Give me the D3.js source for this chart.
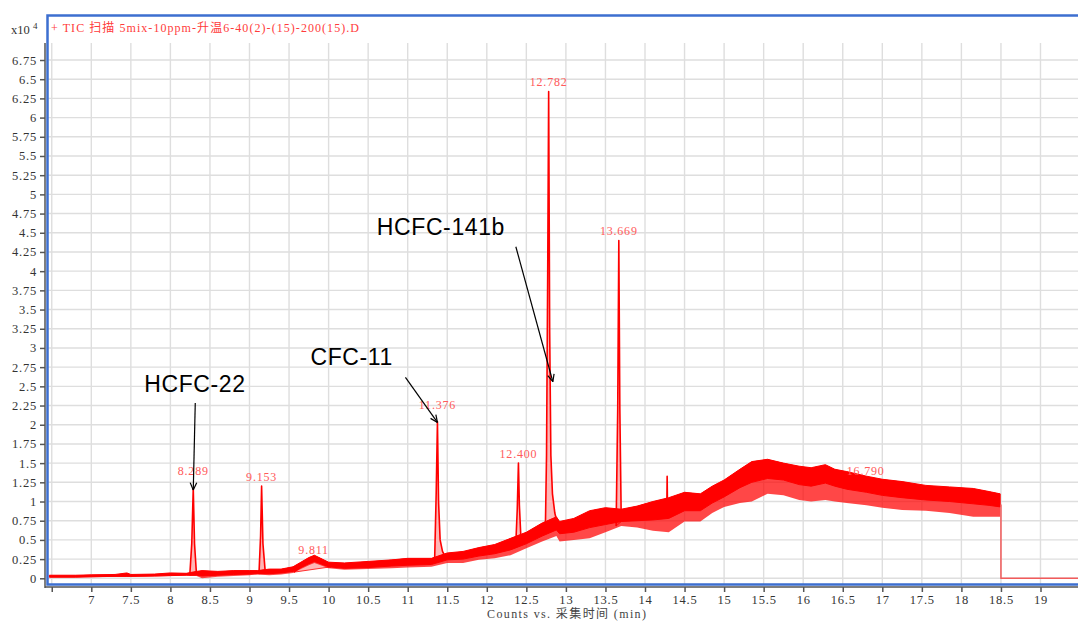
<!DOCTYPE html>
<html><head><meta charset="utf-8">
<script src="https://cdn.jsdelivr.net/npm/d3@7"></script>
<style>body{margin:0;background:#fff}svg{display:block}</style>
</head><body>
<svg id="chart" width="1078" height="621"></svg>
<script>
// Total ion chromatogram: counts (x10^4) against acquisition time (min)
const titleText = "+ TIC 扫描 5mix-10ppm-升温6-40(2)-(15)-200(15).D";
const xAxisTitle = "Counts vs. 采集时间 (min)";
const xTicks = d3.range(6.5, 19.01, 0.5);
const yTicks = d3.range(0, 6.76, 0.25);

// noisy baseline envelope: time, lower spike edge, lower edge of the dense trace, upper edge
const bandTime = [6.47, 6.8, 7.0, 7.3, 7.45, 7.5, 7.8, 8.0, 8.2, 8.33, 8.4, 8.6, 8.8, 9.0, 9.1, 9.25, 9.4, 9.55, 9.65, 9.75, 9.82, 9.9, 10.0, 10.2, 10.5, 10.8, 11.0, 11.3, 11.5, 11.7, 11.9, 12.1, 12.3, 12.5, 12.7, 12.88, 12.92, 13.1, 13.3, 13.5, 13.7, 13.9, 14.1, 14.3, 14.5, 14.7, 14.85, 15.0, 15.2, 15.35, 15.55, 15.75, 15.95, 16.1, 16.28, 16.4, 16.55, 16.8, 17.0, 17.25, 17.55, 17.85, 18.15, 18.35, 18.49];
const bandLow  = [0.01, 0.01, 0.015, 0.02, 0.02, 0.02, 0.025, 0.03, 0.035, 0.03, 0.0, 0.02, 0.03, 0.04, 0.05, 0.04, 0.05, 0.07, 0.12, 0.17, 0.2, 0.17, 0.13, 0.11, 0.12, 0.13, 0.14, 0.15, 0.2, 0.2, 0.24, 0.26, 0.3, 0.39, 0.48, 0.55, 0.48, 0.5, 0.52, 0.6, 0.68, 0.66, 0.62, 0.6, 0.74, 0.74, 0.85, 0.93, 0.98, 1.0, 1.1, 1.08, 1.02, 1.0, 1.02, 1.0, 0.98, 0.95, 0.92, 0.89, 0.88, 0.85, 0.8, 0.8, 0.8];
const bandDenseLow = [0.015, 0.015, 0.02, 0.025, 0.025, 0.025, 0.03, 0.035, 0.04, 0.04, 0.03, 0.04, 0.05, 0.055, 0.06, 0.06, 0.07, 0.09, 0.14, 0.19, 0.22, 0.19, 0.15, 0.13, 0.14, 0.16, 0.17, 0.18, 0.24, 0.25, 0.29, 0.32, 0.37, 0.45, 0.55, 0.63, 0.58, 0.6, 0.66, 0.7, 0.74, 0.75, 0.76, 0.78, 0.88, 0.88, 0.98, 1.06, 1.18, 1.25, 1.3, 1.28, 1.22, 1.2, 1.24, 1.2, 1.16, 1.12, 1.08, 1.05, 1.02, 1.0, 0.97, 0.95, 0.93];
const bandHigh = [0.04, 0.04, 0.045, 0.05, 0.07, 0.05, 0.055, 0.07, 0.065, 0.09, 0.1, 0.09, 0.1, 0.1, 0.1, 0.12, 0.12, 0.15, 0.21, 0.27, 0.3, 0.26, 0.21, 0.2, 0.22, 0.24, 0.26, 0.26, 0.33, 0.35, 0.4, 0.44, 0.52, 0.6, 0.72, 0.8, 0.74, 0.78, 0.88, 0.92, 0.9, 0.94, 1.0, 1.05, 1.12, 1.1, 1.2, 1.28, 1.42, 1.52, 1.55, 1.5, 1.46, 1.44, 1.48, 1.42, 1.39, 1.33, 1.29, 1.26, 1.21, 1.19, 1.17, 1.13, 1.1];

// acquisition stops at 18.5 min, signal reads zero afterwards
const zeroTail = [[18.49, 0.95], [18.5, 0.95], [18.5, 0], [19.7, 0]];

// integrated peaks [time, counts x10^4]; first/last points are the integration baseline ends
const peak8289  = [[8.245, 0.04], [8.27, 0.45], [8.289, 1.17], [8.305, 0.45], [8.33, 0.05]];
const peak9153  = [[9.12, 0.06], [9.14, 0.55], [9.153, 1.20], [9.17, 0.45], [9.20, 0.07]];
const peak9811  = [[9.56, 0.08], [9.65, 0.15], [9.75, 0.22], [9.811, 0.25], [9.9, 0.2], [10.03, 0.15]];
const peak11376 = [[11.34, 0.21], [11.36, 1.1], [11.376, 2.04], [11.39, 1.0], [11.41, 0.5], [11.44, 0.35], [11.49, 0.25]];
const peak12400 = [[12.365, 0.40], [12.385, 0.9], [12.400, 1.50], [12.412, 0.95], [12.43, 0.55], [12.455, 0.46]];
const peak12782 = [[12.74, 0.62], [12.755, 1.6], [12.77, 4.0], [12.782, 6.34], [12.795, 3.2], [12.81, 1.6], [12.83, 1.1], [12.86, 0.85], [12.89, 0.72]];
const peak13669 = [[13.635, 0.68], [13.655, 2.2], [13.669, 4.40], [13.682, 2.2], [13.70, 0.74]];
const spike14280 = [[14.275, 0.85], [14.28, 1.33], [14.285, 0.88]];

const integratedPeaks = [peak8289, peak9153, peak9811, peak11376, peak12400, peak12782, peak13669];

// retention-time labels
const peakRT = [8.289, 9.153, 9.811, 11.376, 12.400, 12.782, 13.669, 16.790];
const peakLabels = ["8.289", "9.153", "9.811", "11.376", "12.400", "12.782", "13.669", "16.790"];

// compound annotations: name, arrow tip (time, counts x10^4)
const compoundNames = ["HCFC-22", "CFC-11", "HCFC-141b"];
const compoundTipTime = [8.289, 11.376, 12.835];
const compoundTipValue = [1.15, 2.03, 2.56];

const svg = d3.select("#chart");
const plot = {left: 48, right: 1078, top: 43, bottom: 585};

const x = d3.scaleLinear().domain([7, 19]).range([91.3, 1040.5]);
const y = d3.scaleLinear().domain([0, 6.75]).range([578.3, 60]);

svg.append("defs").append("clipPath").attr("id", "plotClip")
  .append("rect").attr("x", plot.left).attr("y", plot.top)
  .attr("width", plot.right - plot.left).attr("height", plot.bottom - plot.top);

// grid
const grid = svg.append("g").attr("stroke", "#dedede").attr("stroke-width", 1.4);
grid.selectAll("line.v").data(xTicks).join("line").attr("class", "v")
  .attr("x1", d => x(d)).attr("x2", d => x(d)).attr("y1", plot.top).attr("y2", plot.bottom);
grid.selectAll("line.h").data(yTicks).join("line").attr("class", "h")
  .attr("x1", plot.left).attr("x2", plot.right).attr("y1", d => y(d)).attr("y2", d => y(d));

const g = svg.append("g").attr("clip-path", "url(#plotClip)");
const line = d3.line().x(d => x(d[0])).y(d => y(d[1]));

// integration fills and baselines
g.selectAll("path.fill").data(integratedPeaks).join("path").attr("class", "fill")
  .attr("d", d => line(d) + "Z").attr("fill", "#ffb6b6").attr("stroke", "none");
g.selectAll("line.base").data(integratedPeaks).join("line").attr("class", "base")
  .attr("x1", d => x(d[0][0])).attr("y1", d => y(d[0][1]))
  .attr("x2", d => x(d[d.length - 1][0])).attr("y2", d => y(d[d.length - 1][1]))
  .attr("stroke", "#ff3030").attr("stroke-width", 1);

// noisy baseline: sparse spikes below, dense trace on top
const bandData = bandTime.map((t, i) => [t, bandLow[i], bandDenseLow[i], bandHigh[i]]);
g.append("path").datum(bandData)
  .attr("d", d3.area().x(d => x(d[0])).y0(d => y(d[1])).y1(d => y(d[3])))
  .attr("fill", "#ff0000").attr("fill-opacity", 0.72).attr("stroke", "none");
g.append("path").datum(bandData)
  .attr("d", d3.area().x(d => x(d[0])).y0(d => y(d[2])).y1(d => y(d[3])))
  .attr("fill", "#ff0000").attr("stroke", "#ff0000").attr("stroke-width", 1).attr("stroke-linejoin", "round");

// peak traces
g.selectAll("path.peak").data(integratedPeaks.concat([spike14280])).join("path").attr("class", "peak")
  .attr("d", line).attr("fill", "none").attr("stroke", "#ff0000").attr("stroke-width", 1.6)
  .attr("stroke-linejoin", "round");

// end of run
g.append("path").datum(zeroTail).attr("d", line)
  .attr("fill", "none").attr("stroke", "#f25b5b").attr("stroke-width", 1.5);

// retention-time labels
const labelLift = {"8.289": 13, "11.376": 13, "9.811": 2, "16.790": 1};
const profileByRT = new Map(integratedPeaks.map(p => [d3.greatest(p, d => d[1])[0], p]));
function topValueAt(t) {
  const band = d3.scaleLinear().domain(bandTime).range(bandHigh)(t);
  const p = profileByRT.get(t);
  return p ? Math.max(d3.max(p, d => d[1]), t === 9.811 ? band : 0) : band;
}
svg.append("g").selectAll("text").data(peakRT).join("text")
  .attr("x", d => x(d))
  .attr("y", (d, i) => y(topValueAt(d)) - (labelLift[peakLabels[i]] ?? 5))
  .attr("text-anchor", "middle")
  .attr("font-family", "'Liberation Serif', serif").attr("font-size", 12)
  .attr("letter-spacing", 0.8).attr("fill", "#ff5a5a")
  .text((d, i) => peakLabels[i]);

// compound annotations
const annoOffsets = [
  {tail: [2, -87], text: [-49, -98]},
  {tail: [-32, -45], text: [-127, -57]},
  {tail: [-37, -135], text: [-176, -147]}
];
const anno = svg.append("g");
compoundNames.forEach((name, i) => {
  const tx = x(compoundTipTime[i]), ty = y(compoundTipValue[i]);
  const o = annoOffsets[i];
  const sx = tx + o.tail[0], sy = ty + o.tail[1];
  anno.append("line").attr("x1", sx).attr("y1", sy).attr("x2", tx).attr("y2", ty)
    .attr("stroke", "#000").attr("stroke-width", 1.2);
  const ang = Math.atan2(ty - sy, tx - sx);
  [-0.42, 0.42].forEach(a => {
    anno.append("line").attr("x1", tx).attr("y1", ty)
      .attr("x2", tx - 8 * Math.cos(ang + a)).attr("y2", ty - 8 * Math.sin(ang + a))
      .attr("stroke", "#000").attr("stroke-width", 1.2);
  });
  anno.append("text").attr("x", tx + o.text[0]).attr("y", ty + o.text[1])
    .attr("font-family", "'Liberation Sans', Arial, sans-serif").attr("font-size", 23)
    .attr("letter-spacing", 0.6).attr("fill", "#000").text(name);
});

// axes
const yAxis = d3.axisLeft(y).tickValues(yTicks).tickSize(5).tickPadding(3)
  .tickFormat(d => d3.format("~g")(d));
const yg = svg.append("g").attr("transform", "translate(45,0)").call(yAxis);
yg.select(".domain").remove();
yg.append("line").attr("x1", 0).attr("x2", 0).attr("y1", plot.top).attr("y2", 588);

const xAxis = d3.axisBottom(x).tickValues(xTicks).tickSize(5).tickPadding(3)
  .tickFormat(d => d === 6.5 ? "" : d3.format("~g")(d));
const xg = svg.append("g").attr("transform", "translate(0,587)").call(xAxis);
xg.select(".domain").remove();
xg.append("line").attr("x1", 45).attr("x2", 1078).attr("y1", 0).attr("y2", 0);

[yg, xg].forEach(a => {
  a.selectAll("line").attr("stroke", "#555").attr("stroke-width", 1.5);
  a.selectAll("text").attr("font-family", "'Liberation Serif', serif").attr("font-size", 12.5)
    .attr("letter-spacing", 0.8).attr("fill", "#333");
});

// frame
svg.append("path").attr("d", `M1080,15.5 H47.5 V584.5 H1080`)
  .attr("fill", "none").attr("stroke", "#3d6fd0").attr("stroke-width", 2.5);

// title and scale factor
svg.append("text").attr("x", 51).attr("y", 31.5).attr("textLength", 308).attr("lengthAdjust", "spacing")
  .attr("font-family", "'Liberation Serif', 'Noto Sans CJK SC', serif").attr("font-size", 12)
  .attr("fill", "#ff3b3b").text(titleText);
svg.append("text").attr("x", 11).attr("y", 34).attr("font-family", "'Liberation Serif', serif")
  .attr("font-size", 12.5).attr("fill", "#333").text("x10");
svg.append("text").attr("x", 33).attr("y", 29).attr("font-family", "'Liberation Serif', serif")
  .attr("font-size", 9).attr("fill", "#333").text("4");

svg.append("text").attr("x", 487).attr("y", 618).attr("textLength", 159).attr("lengthAdjust", "spacing")
  .attr("font-family", "'Liberation Serif', 'Noto Sans CJK SC', serif").attr("font-size", 12)
  .attr("fill", "#444").text(xAxisTitle);
</script>
</body></html>
